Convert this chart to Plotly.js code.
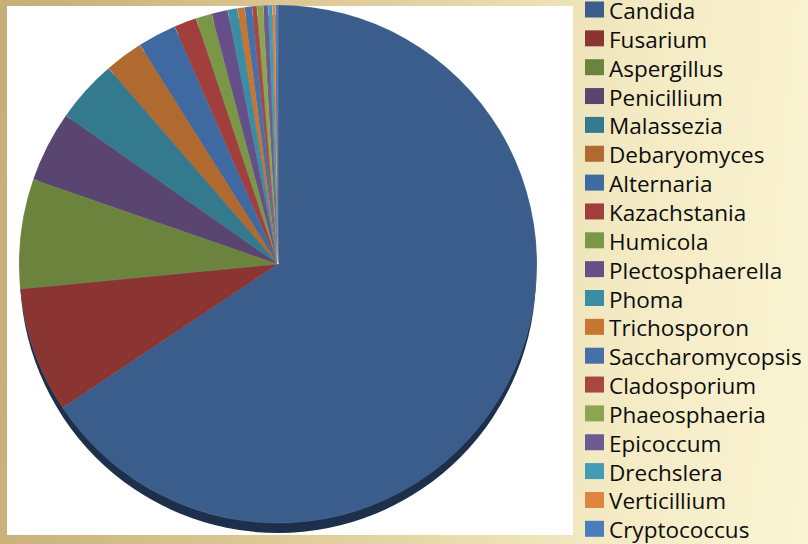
<!DOCTYPE html>
<html>
<head>
<meta charset="utf-8">
<script src="https://cdn.plot.ly/plotly-3.0.1.min.js"></script>
<style>
  html, body { margin: 0; padding: 0; }
  #chart {
    width: 808px; height: 544px;
    background: linear-gradient(95deg, #C7AD77 0%, #D6C08C 25%, #E6D8A8 55%, #F3EAC3 75%, #FBF4D3 100%);
  }
</style>
</head>
<body>
<div id="chart"></div>
<script>
// Fungal genera and their share of reads (%)
const genera = [
  "Candida", "Fusarium", "Aspergillus", "Penicillium", "Malassezia",
  "Debaryomyces", "Alternaria", "Kazachstania", "Humicola", "Plectosphaerella",
  "Phoma", "Trichosporon", "Saccharomycopsis", "Cladosporium", "Phaeosphaeria",
  "Epicoccum", "Drechslera", "Verticillium", "Cryptococcus"
];
const shares = [
  65.3, 7.8, 6.8, 4.4, 3.9,
  2.4, 2.4, 1.4, 1.0, 1.0,
  0.6, 0.45, 0.45, 0.3, 0.4,
  0.3, 0.25, 0.2, 0.15
];
const sliceColors = [
  "#3A5D8B", "#8B3533", "#6B833C", "#59456F", "#347A8E",
  "#B0692F", "#3F69A1", "#A23E3B", "#7A9745", "#664F88",
  "#3A8DA5", "#C77632", "#4670AA", "#A94644", "#8CA650",
  "#6E5A93", "#429CB4", "#DE863F", "#4A7DBC"
];

const W = 808, H = 544;
// pie geometry in pixels
const cx = 278, cy = 264, R = 259;
// key list geometry in pixels
const keyX0 = 585, keyX1 = 604, textX = 607, rowTop = 9.5, rowStep = 28.85, keyHalf = 8;

const px = x => x / W;
const py = y => 1 - y / H;

const trace = {
  type: "pie",
  labels: genera,
  values: shares,
  sort: false,
  direction: "clockwise",
  rotation: 0,
  textinfo: "none",
  hoverinfo: "label+percent",
  marker: { colors: sliceColors, line: { color: "rgba(255,255,255,0.25)", width: 0.4 } },
  domain: { x: [px(cx - R), px(cx + R)], y: [py(cy + R), py(cy - R)] }
};

const shapes = [
  // white chart panel
  { type: "rect", xref: "paper", yref: "paper", layer: "below",
    x0: px(7), x1: px(573), y0: py(535), y1: py(6),
    fillcolor: "#FFFFFF", line: { width: 0 } },
  // dark lower rim giving the disc its depth
  { type: "circle", xref: "paper", yref: "paper", layer: "below",
    x0: px(cx - R + 1), x1: px(cx + R - 1), y0: py(cy + R + 10), y1: py(cy - R + 10),
    fillcolor: "#1C304C", line: { width: 0 } }
];
const annotations = [];

// key list: colour square + genus name per row
genera.forEach((name, i) => {
  const yc = rowTop + i * rowStep;
  shapes.push({
    type: "rect", xref: "paper", yref: "paper", layer: "above",
    x0: px(keyX0), x1: px(keyX1), y0: py(yc + keyHalf), y1: py(yc - keyHalf),
    fillcolor: sliceColors[i], line: { width: 0 }
  });
  annotations.push({
    xref: "paper", yref: "paper", x: px(textX), y: py(yc + 1),
    xanchor: "left", yanchor: "middle", showarrow: false,
    text: name,
    font: { family: "Open Sans, sans-serif", size: 22.5, color: "#0D0D0D" }
  });
});

const layout = {
  width: W, height: H,
  margin: { l: 0, r: 0, t: 0, b: 0 },
  paper_bgcolor: "rgba(0,0,0,0)",
  showlegend: false,
  shapes: shapes,
  annotations: annotations
};

Plotly.newPlot("chart", [trace], layout, { displayModeBar: false, staticPlot: true });
</script>
</body>
</html>
